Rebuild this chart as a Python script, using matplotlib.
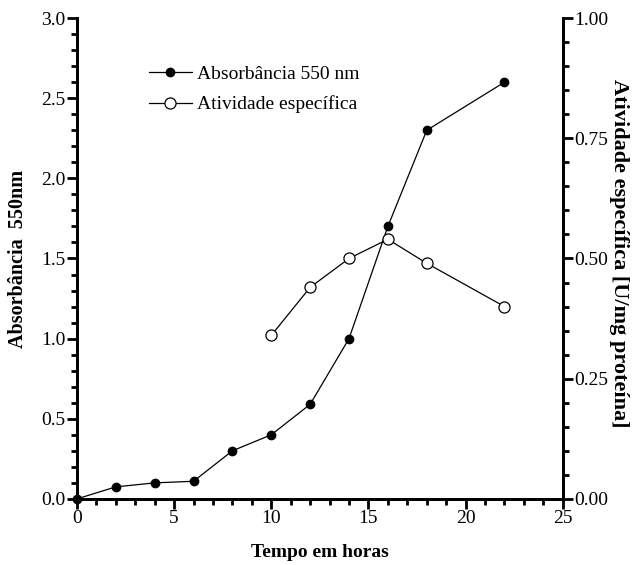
import matplotlib.pyplot as plt
from matplotlib.ticker import MultipleLocator, FormatStrFormatter

plt.rcParams['font.family'] = ['Liberation Serif', 'DejaVu Serif']

# absorbancia 550 nm (eixo esquerdo)
t_abs = [0, 2, 4, 6, 8, 10, 12, 14, 16, 18, 22]
absorb = [0.0, 0.075, 0.10, 0.11, 0.30, 0.40, 0.59, 1.0, 1.70, 2.30, 2.60]

# atividade especifica (eixo direito)
t_atv = [10, 12, 14, 16, 18, 22]
atividade = [0.34, 0.44, 0.50, 0.54, 0.49, 0.40]

fig = plt.figure(figsize=(6.41, 5.65), dpi=100)
ax = fig.add_axes([0.120, 0.117, 0.758, 0.851])
ax2 = ax.twinx()

l1, = ax.plot(t_abs, absorb, '-o', color='black', lw=0.9, ms=6,
              mfc='black', mec='black', clip_on=False, zorder=5)
l2, = ax2.plot(t_atv, atividade, '-o', color='black', lw=0.9, ms=8,
               mfc='white', mec='black', mew=0.9, clip_on=False)

ax.set_xlim(0, 25)
ax.set_ylim(0, 3.0)
ax2.set_ylim(0, 1.0)

ax.xaxis.set_major_locator(MultipleLocator(5))
ax.xaxis.set_minor_locator(MultipleLocator(1))
ax.yaxis.set_major_locator(MultipleLocator(0.5))
ax.yaxis.set_minor_locator(MultipleLocator(0.1))
ax.yaxis.set_major_formatter(FormatStrFormatter('%.1f'))
ax2.yaxis.set_major_locator(MultipleLocator(0.25))
ax2.yaxis.set_minor_locator(MultipleLocator(0.05))
ax2.yaxis.set_major_formatter(FormatStrFormatter('%.2f'))

for a in (ax, ax2):
    a.spines['top'].set_visible(False)
    for s in ('left', 'bottom', 'right'):
        a.spines[s].set_linewidth(2)
    a.tick_params(which='major', length=7, width=2, labelsize=14, pad=1)
    a.tick_params(which='minor', length=4, width=2)

ax.set_xlabel('Tempo em horas', fontsize=14, fontweight='bold', labelpad=12)
ax.set_ylabel('Absorbância  550nm', fontsize=14.5, fontweight='bold')
ax.yaxis.set_label_coords(-0.121, 0.5)
ax.yaxis.label.set_va('center')
ax2.set_ylabel('Atividade específica [U/mg proteína]', fontsize=16,
               fontweight='bold', rotation=270)
ax2.yaxis.set_label_coords(1.115, 0.51)
ax2.yaxis.label.set_va('center')

ax.legend([l1, l2], ['Absorbância 550 nm', 'Atividade específica'],
          loc='upper left', bbox_to_anchor=(0.132, 0.918), frameon=False,
          fontsize=14, handlelength=2.2, handletextpad=0.3, labelspacing=0.65,
          borderaxespad=0)

fig.savefig('out.png', dpi=100)
